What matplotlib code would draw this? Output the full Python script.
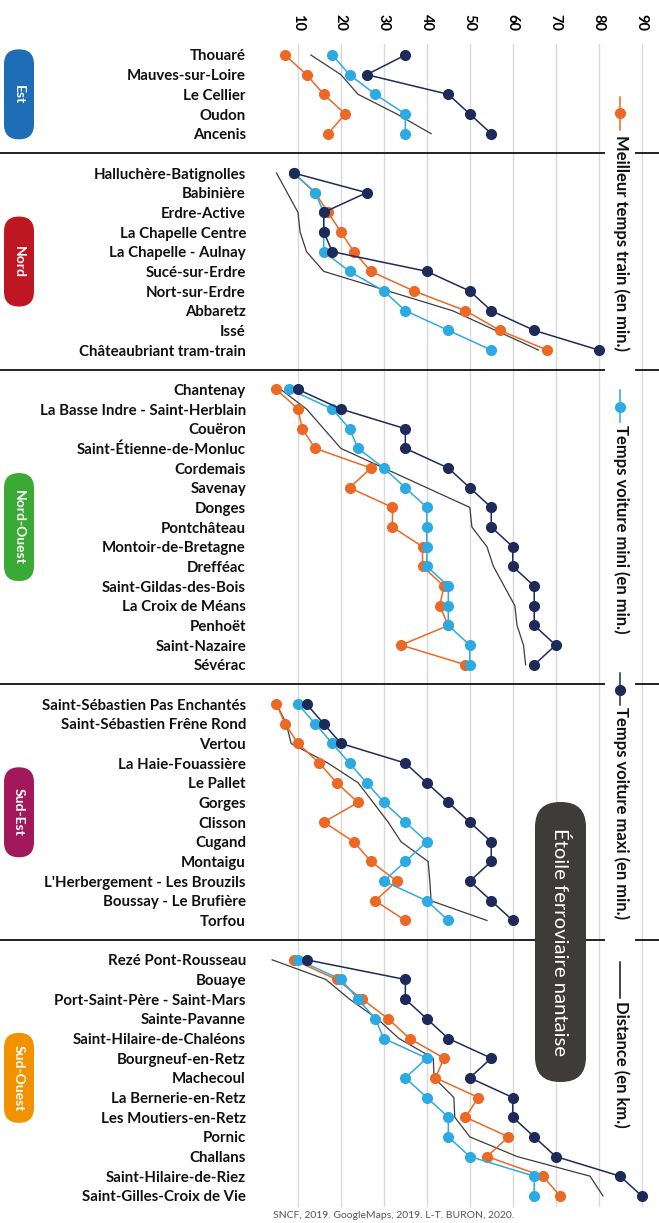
import matplotlib
matplotlib.use("Agg")
import matplotlib.pyplot as plt
import numpy as np
from matplotlib.patches import FancyBboxPatch, Rectangle
from matplotlib.lines import Line2D

plt.rcParams['font.family'] = ['Lato', 'DejaVu Sans']

# ---------------- data ----------------
group_names = ["Est", "Nord", "Nord-Ouest", "Sud-Est", "Sud-Ouest"]
group_colors = ["#1E6DB6", "#BE1622", "#3AA935", "#A2195B", "#F39200"]

est_stations = ["Thouaré", "Mauves-sur-Loire", "Le Cellier", "Oudon", "Ancenis"]
est_train = [7, 12, 16, 21, 17]
est_vmin = [18, 22, 28, 35, 35]
est_vmax = [35, 26, 45, 50, 55]
est_dist = [13, 20, 24, 33, 41]

nord_stations = ["Halluchère-Batignolles", "Babinière", "Erdre-Active", "La Chapelle Centre",
                 "La Chapelle - Aulnay", "Sucé-sur-Erdre", "Nort-sur-Erdre", "Abbaretz", "Issé",
                 "Châteaubriant tram-train"]
nord_train = [9, 14, 17, 20, 23, 27, 37, 49, 57, 68]
nord_vmin = [9, 14, 16, 16, 16, 22, 30, 35, 45, 55]
nord_vmax = [9, 26, 16, 16, 18, 40, 50, 55, 65, 80]
nord_dist = [5, 7.5, 10, 10.5, 12, 16, 31, 46, 56, 66]

no_stations = ["Chantenay", "La Basse Indre - Saint-Herblain", "Couëron", "Saint-Étienne-de-Monluc",
               "Cordemais", "Savenay", "Donges", "Pontchâteau", "Montoir-de-Bretagne", "Drefféac",
               "Saint-Gildas-des-Bois", "La Croix de Méans", "Penhoët", "Saint-Nazaire", "Sévérac"]
no_train = [5, 10, 11, 14, 27, 22, 32, 32, 39, 39, 44, 43, 45, 34, 49]
no_vmin = [8, 18, 22, 24, 30, 35, 40, 40, 40, 40, 45, 45, 45, 50, 50]
no_vmax = [10, 20, 35, 35, 45, 50, 55, 55, 60, 60, 65, 65, 65, 70, 65]
no_dist = [6, 12, 16, 20, 30, 40, 50, 50.5, 54, 55.5, 58, 60.5, 61, 62.5, 63]

se_stations = ["Saint-Sébastien Pas Enchantés", "Saint-Sébastien Frêne Rond", "Vertou",
               "La Haie-Fouassière", "Le Pallet", "Gorges", "Clisson", "Cugand", "Montaigu",
               "L'Herbergement - Les Brouzils", "Boussay - Le Brufière", "Torfou"]
se_train = [5, 7, 10, 15, 19, 24, 16, 23, 27, 33, 28, 35]
se_vmin = [10, 14, 18, 22, 26, 30, 35, 40, 35, 30, 40, 45]
se_vmax = [12, 16, 20, 35, 40, 45, 50, 55, 55, 50, 55, 60]
se_dist = [5, 7.3, 8.4, 17, 24, 27.5, 31, 34, 40.3, 40.7, 41, 54]

so_stations = ["Rezé Pont-Rousseau", "Bouaye", "Port-Saint-Père - Saint-Mars", "Sainte-Pavanne",
               "Saint-Hilaire-de-Chaléons", "Bourgneuf-en-Retz", "Machecoul", "La Bernerie-en-Retz",
               "Les Moutiers-en-Retz", "Pornic", "Challans", "Saint-Hilaire-de-Riez",
               "Saint-Gilles-Croix de Vie"]
so_train = [9, 19, 25, 31, 36, 44, 42, 52, 49, 59, 54, 67, 71]
so_vmin = [10, 20, 24, 28, 30, 40, 35, 40, 45, 45, 50, 65, 65]
so_vmax = [12, 35, 35, 40, 45, 55, 50, 60, 60, 65, 70, 85, 90]
so_dist = [4, 16.5, 22, 28.5, 33.5, 41.5, 41.7, 46.3, 46.5, 50, 61, 78, 81]

x_ticks = [10, 20, 30, 40, 50, 60, 70, 80, 90]

series_labels = ["Meilleur temps train (en min.)", "Temps voiture mini (en min.)",
                 "Temps voiture maxi (en min.)", "Distance (en km.)"]

title_text = "Étoile ferroviaire nantaise"
source_text = "SNCF, 2019. GoogleMaps, 2019. L-T. BURON, 2020."

# ---------------- styles ----------------
C_TRAIN = "#EC6925"
C_VMIN = "#2DAAE1"
C_VMAX = "#1E2A5A"
C_DIST = "#3C3C3C"

groups = [
    (est_stations, est_train, est_vmin, est_vmax, est_dist),
    (nord_stations, nord_train, nord_vmin, nord_vmax, nord_dist),
    (no_stations, no_train, no_vmin, no_vmax, no_dist),
    (se_stations, se_train, se_vmin, se_vmax, se_dist),
    (so_stations, so_train, so_vmin, so_vmax, so_dist),
]

W, H = 659, 1223
fig = plt.figure(figsize=(W / 100, H / 100), dpi=100)

# axes placement in pixels
ax_left_px, ax_right_px = 255.0, 650.2
ax_top_px, ax_bot_px = 44.0, 1207.0
ax = fig.add_axes([ax_left_px / W, 1 - ax_bot_px / H,
                   (ax_right_px - ax_left_px) / W, (ax_bot_px - ax_top_px) / H])

row0_px, row_step = 55.0, 19.67
ax.set_xlim(0, 92)
ax.set_ylim((ax_bot_px - row0_px) / row_step, (ax_top_px - row0_px) / row_step)

def pt(xp, yp):
    return (xp / 100.0, (H - yp) / 100.0)

all_rows, all_labels = [], []
sep_rows, group_centers = [], []
r = 0
for gi, (names, tr, vmi, vma, di) in enumerate(groups):
    rows = np.arange(r, r + len(names))
    all_rows += list(rows)
    all_labels += names
    group_centers.append(rows.mean())
    ax.plot(di, rows, color=C_DIST, lw=0.9, zorder=2)
    ax.plot(tr, rows, color=C_TRAIN, lw=1.1, marker='o', ms=7, mec=C_TRAIN, zorder=3)
    ax.plot(vmi, rows, color=C_VMIN, lw=1.1, marker='o', ms=7, mec=C_VMIN, zorder=4)
    ax.plot(vma, rows, color=C_VMAX, lw=1.1, marker='o', ms=7, mec=C_VMAX, zorder=5)
    r += len(names)
    if gi < len(groups) - 1:
        sep_rows.append(r)
        r += 1

# separators (extend over full figure width)
axw = ax_right_px - ax_left_px
for sr in sep_rows:
    ax.axhline(sr, xmin=-ax_left_px / axw, xmax=(W - ax_left_px) / axw,
               color="#111111", lw=1.3, clip_on=False, zorder=1)

ax.set_yticks(all_rows)
ax.set_yticklabels(all_labels, fontsize=10.8, fontweight='bold', color="#111111")
ax.tick_params(axis='y', length=0, pad=6.5)

ax.xaxis.tick_top()
ax.set_xticks(x_ticks)
ax.set_xticklabels([str(v) for v in x_ticks], fontsize=10.5, fontweight='bold', rotation=-90)
ax.tick_params(axis='x', length=0, pad=9.4)
ax.grid(axis='x', color="#D9D9D9", lw=1.0, zorder=0)
ax.grid(axis='y', visible=False)
ax.set_axisbelow(True)
for s in ax.spines.values():
    s.set_visible(False)

# group pills
pill_heights = [90, 90, 108, 90, 90]
for gi, name in enumerate(group_names):
    cy = row0_px + group_centers[gi] * row_step
    hpx = pill_heights[gi]
    x0, y0 = pt(4, cy + hpx / 2)
    p = FancyBboxPatch((x0, y0), 0.30, hpx / 100.0,
                       boxstyle="round,pad=0,rounding_size=0.15",
                       transform=fig.dpi_scale_trans, facecolor=group_colors[gi],
                       edgecolor='none', zorder=3)
    fig.add_artist(p)
    tx, ty = pt(19, cy)
    fig.text(tx / (W / 100), ty / (H / 100), name, rotation=-90, color='white',
             fontsize=10, fontweight='bold', ha='center', va='center', zorder=4)

# legend (vertical, drawn manually)
bg = Rectangle(pt(605, 1140), 0.30, (1140 - 90) / 100.0, transform=fig.dpi_scale_trans,
               facecolor='white', edgecolor='none', zorder=5)
fig.add_artist(bg)
leg_entries = [
    (C_TRAIN, True, 97, 130, 113, 135),
    (C_VMIN, True, 390, 422, 407, 425),
    (C_VMAX, True, 673, 705, 690, 707),
    ("#111111", False, 962, 998, None, 1001),
]
for (col, mk, ya, yb, ym, yt), lab in zip(leg_entries, series_labels):
    xa, ya_ = pt(620, ya)
    _, yb_ = pt(620, yb)
    fig.add_artist(Line2D([xa, xa], [ya_, yb_], color=col, lw=1.1,
                          transform=fig.dpi_scale_trans, zorder=6))
    if mk:
        _, ym_ = pt(620, ym)
        fig.add_artist(Line2D([xa], [ym_], color=col, marker='o', ms=7, lw=0,
                              transform=fig.dpi_scale_trans, zorder=6))
    tx, ty = pt(621, yt)
    fig.text(tx / (W / 100), ty / (H / 100), lab, rotation=-90, fontsize=12,
             fontweight='bold', color="#111111", ha='center', va='top', zorder=7)

# title pill
x0, y0 = pt(535, 1082)
tp = FancyBboxPatch((x0, y0), 0.51, (1082 - 802) / 100.0,
                    boxstyle="round,pad=0,rounding_size=0.25",
                    transform=fig.dpi_scale_trans, facecolor="#3D3C3B",
                    edgecolor='none', zorder=6)
fig.add_artist(tp)
tx, ty = pt(560, 942)
fig.text(tx / (W / 100), ty / (H / 100), title_text, rotation=-90, color='white',
         fontsize=14.6, ha='center', va='center', zorder=7)

# source
tx, ty = pt(273, 1216)
fig.text(tx / (W / 100), ty / (H / 100), source_text, fontsize=7.5, color="#555555",
         ha='left', va='center')

fig.savefig("out.png", dpi=100)
